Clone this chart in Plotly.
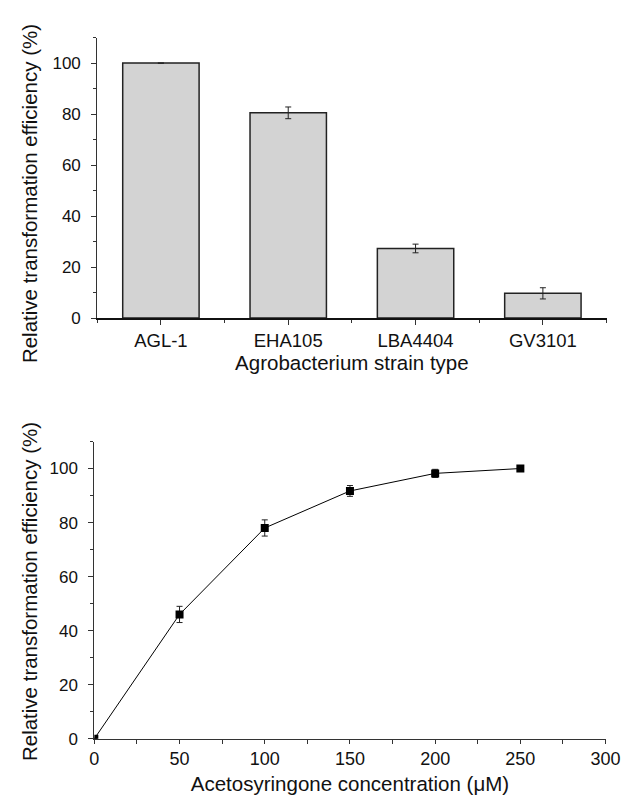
import plotly.graph_objects as go

strains = ["AGL-1", "EHA105", "LBA4404", "GV3101"]
strain_eff = [100, 80.5, 27.3, 9.7]
strain_err = [0, 2.3, 1.7, 2.2]

as_conc = [0, 50, 100, 150, 200, 250]
as_eff = [0, 46, 78, 91.7, 98.2, 100]
as_err = [0, 3.0, 3.0, 2.0, 1.5, 0.6]

W, H = 630, 799
FONT = "Liberation Sans, Arial, sans-serif"
TXT = "#111111"

fig = go.Figure()
fig.add_trace(go.Bar(
    x=list(range(len(strains))), y=strain_eff,
    width=0.6,
    marker=dict(color="#d3d3d3", line=dict(color="#222222", width=1.5)),
    error_y=dict(type="data", array=strain_err, color="#222222", thickness=1, width=3),
    xaxis="x", yaxis="y", showlegend=False,
))
fig.add_trace(go.Scatter(
    x=as_conc, y=as_eff, mode="lines+markers",
    line=dict(color="black", width=1),
    marker=dict(symbol="square", size=8, color="black"),
    error_y=dict(type="data", array=as_err, color="#222222", thickness=1, width=3),
    xaxis="x2", yaxis="y2", showlegend=False,
))


def ycfg():
    return dict(
        range=[0, 110], tickvals=[0, 20, 40, 60, 80, 100], ticks="outside", ticklen=5,
        tickwidth=1, tickcolor="#333", showline=True, linecolor="#333", linewidth=1,
        showgrid=False, zeroline=False, tickfont=dict(size=17, color=TXT),
        ticklabelstandoff=7,
        minor=dict(tickvals=[10, 30, 50, 70, 90, 110], ticks="outside", ticklen=3, tickcolor="#333"),
    )


top_y = [1 - 314 / H, 1 - 30 / H]
bot_y = [1 - 740 / H, 1 - 439 / H]

fig.update_layout(
    width=W, height=H, margin=dict(l=0, r=0, t=0, b=0),
    paper_bgcolor="white", plot_bgcolor="white",
    font=dict(family=FONT, color=TXT),
    xaxis=dict(
        domain=[87 / W, 613 / W], range=[-0.5, 3.5], anchor="y",
        tickvals=list(range(len(strains))), ticktext=strains,
        ticks="outside", ticklen=5, tickcolor="#333",
        showline=True, linecolor="#111", linewidth=2,
        showgrid=False, zeroline=False, tickfont=dict(size=18.5, color=TXT),
        ticklabelstandoff=0,
        minor=dict(tickvals=[-0.5, 0.5, 1.5, 2.5, 3.5], ticks="outside", ticklen=3, tickcolor="#333"),
        title=dict(text="Agrobacterium strain type", font=dict(size=20.5, color=TXT), standoff=1),
    ),
    yaxis=dict(domain=top_y, anchor="x", **ycfg()),
    xaxis2=dict(
        domain=[84 / W, 612 / W], range=[0, 300], anchor="y2",
        tickvals=[0, 50, 100, 150, 200, 250, 300],
        ticks="outside", ticklen=4, tickcolor="#333",
        showline=True, linecolor="#333", linewidth=1,
        showgrid=False, zeroline=False, tickfont=dict(size=18, color=TXT),
        minor=dict(tickvals=[25, 75, 125, 175, 225, 275], ticks="outside", ticklen=4, tickcolor="#333"),
        title=dict(text="Acetosyringone concentration (μM)", font=dict(size=20.5, color=TXT), standoff=8),
    ),
    yaxis2=dict(domain=bot_y, anchor="x2", **ycfg()),
    annotations=[
        dict(text="Relative transformation efficiency (%)", textangle=-90,
             xref="paper", yref="paper", x=17 / W, y=1 - 188 / H,
             xanchor="center", yanchor="middle", showarrow=False,
             font=dict(size=20.5, color=TXT)),
        dict(text="Relative transformation efficiency (%)", textangle=-90,
             xref="paper", yref="paper", x=17 / W, y=1 - 591 / H,
             xanchor="center", yanchor="middle", showarrow=False,
             font=dict(size=20.5, color=TXT)),
    ],
)

fig.write_html("out.html")
